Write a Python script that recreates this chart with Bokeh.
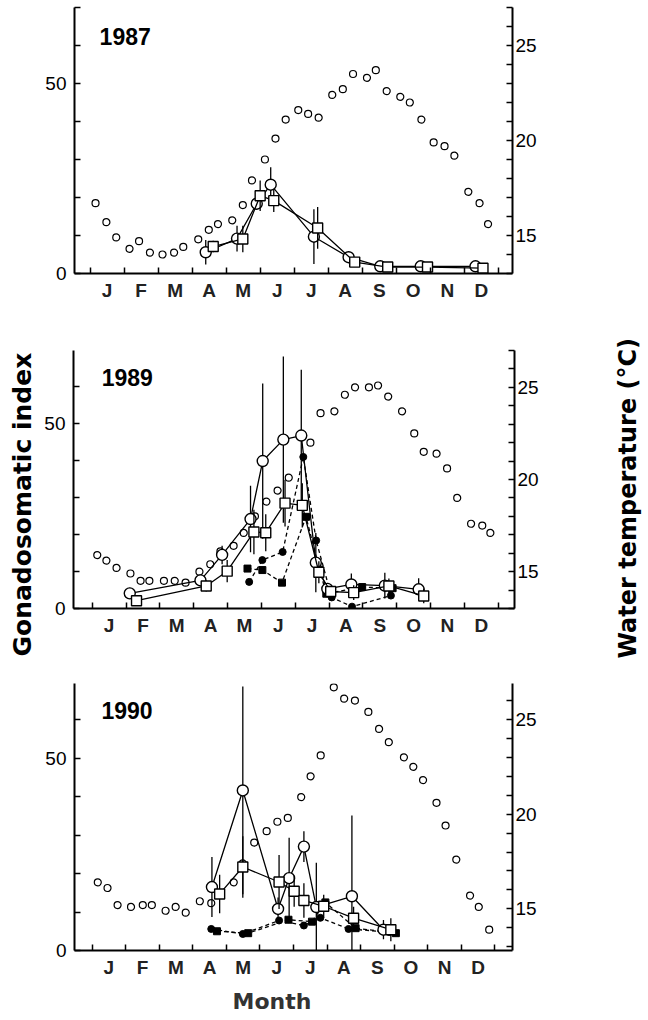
import math
from bokeh.plotting import figure
from bokeh.models import Range1d, LinearAxis, FixedTicker, Label, Title
from bokeh.layouts import column, row
from bokeh.embed import file_html
from bokeh.resources import INLINE

# ---------------- axis categories ----------------
month_labels = ["J", "F", "M", "A", "M", "J", "J", "A", "S", "O", "N", "D"]
month_centers = [0.5 + i for i in range(12)]
month_bounds = list(range(13))
gsi_ticks = [0, 10, 20, 30, 40, 50, 60, 70]
gsi_labels = {0: "0", 50: "50"}
temp_ticks = list(range(13, 28))
temp_labels = {15: "15", 20: "20", 25: "25"}

# ---------------- 1987 ----------------
tx_87 = [0.16, 0.48, 0.77, 1.16, 1.44, 1.76, 2.13, 2.47, 2.74, 3.18, 3.49, 3.76, 4.18, 4.49, 4.76, 5.14, 5.45, 5.75,
         6.12, 6.41, 6.72, 7.12, 7.43, 7.73, 8.14, 8.40, 8.72, 9.12, 9.40, 9.74, 10.10, 10.42, 10.71, 11.12, 11.45, 11.70]
t_87 = [16.7, 15.7, 14.9, 14.3, 14.7, 14.1, 14.0, 14.1, 14.4, 14.8, 15.3, 15.6, 15.8, 16.6, 17.9, 19.0, 20.1, 21.1,
        21.6, 21.4, 21.2, 22.4, 22.7, 23.5, 23.3, 23.7, 22.6, 22.3, 22.0, 21.1, 19.9, 19.7, 19.2, 17.3, 16.7, 15.6]
x_87_o = [3.40, 4.32, 4.90, 5.31, 6.58, 7.60, 8.53, 9.72, 11.33]
y_87_o = [5.6, 9.2, 18.4, 23.4, 9.7, 4.3, 1.9, 1.9, 1.9]
e_87_o = [3.2, 3.4, 1.5, 4.6, 7.2, 1.5, 1.0, 1.0, 0.8]
x_87_s = [3.62, 4.49, 5.00, 5.40, 6.69, 7.78, 8.75, 9.92, 11.55]
y_87_s = [7.1, 9.1, 20.5, 19.2, 12.0, 3.0, 1.7, 1.7, 1.4]
e_87_s = [1.5, 3.5, 4.0, 3.0, 5.5, 1.0, 0.8, 0.8, 0.5]

# ---------------- 1989 ----------------
tx_89 = [0.15, 0.42, 0.72, 1.13, 1.43, 1.69, 2.12, 2.44, 2.76, 3.17, 3.49, 3.79, 4.18, 4.48, 4.81, 5.15, 5.48, 5.81,
         6.45, 6.75, 7.16, 7.47, 7.77, 8.18, 8.45, 8.75, 9.16, 9.52, 9.80, 10.18, 10.49, 10.79, 11.20, 11.53, 11.77]
t_89 = [15.9, 15.6, 15.2, 14.9, 14.5, 14.5, 14.5, 14.5, 14.4, 15.0, 15.4, 16.1, 16.4, 17.1, 18.0, 18.8, 19.4, 20.1,
        22.0, 23.6, 23.7, 24.6, 25.0, 25.0, 25.1, 24.5, 23.7, 22.5, 21.5, 21.4, 20.6, 19.0, 17.6, 17.5, 17.1]
x_89_o = [1.11, 3.20, 3.84, 4.68, 5.04, 5.65, 6.18, 6.61, 6.95, 7.66, 8.65, 9.65]
y_89_o = [4.1, 7.6, 14.5, 24.2, 39.9, 45.7, 46.8, 12.4, 5.3, 6.5, 6.2, 5.2]
e_89_o = [1.5, 1.5, 2.5, 9.0, 21.0, 22.5, 17.8, 8.0, 1.5, 3.0, 3.5, 3.0]
x_89_s = [1.31, 3.37, 3.99, 4.78, 5.13, 5.70, 6.21, 6.70, 7.05, 7.73, 8.77, 9.80]
y_89_s = [2.1, 6.1, 10.1, 20.7, 20.5, 28.5, 27.9, 9.8, 4.6, 4.3, 6.1, 3.4]
e_89_s = [1.0, 1.5, 3.0, 6.0, 5.0, 6.3, 6.0, 3.0, 1.5, 2.0, 2.0, 2.0]
x_89_fc = [4.64, 5.03, 5.63, 6.24, 6.62, 7.08, 7.68, 8.83]
y_89_fc = [7.2, 13.1, 15.3, 41.0, 18.4, 3.0, 0.5, 3.5]
x_89_fs = [4.59, 5.03, 5.61, 6.32, 6.72, 6.92, 7.98, 8.88]
y_89_fs = [10.8, 10.4, 7.0, 24.8, 10.5, 4.0, 5.8, 5.5]

# ---------------- 1990 ----------------
tx_90 = [0.17, 0.46, 0.76, 1.16, 1.51, 1.78, 2.19, 2.49, 2.79, 3.21, 3.55, 4.22, 4.49, 4.83, 5.20, 5.52, 5.83,
         6.23, 6.51, 6.81, 7.20, 7.51, 7.83, 8.23, 8.55, 8.84, 9.29, 9.57, 9.86, 10.26, 10.53, 10.85, 11.26, 11.52, 11.83]
t_90 = [16.4, 16.1, 15.2, 15.1, 15.2, 15.2, 14.9, 15.1, 14.8, 15.4, 15.3, 16.4, 17.4, 18.5, 19.1, 19.6, 19.8,
        20.9, 22.0, 23.1, 26.7, 26.1, 26.0, 25.4, 24.5, 23.8, 23.0, 22.5, 21.8, 20.6, 19.4, 17.6, 15.7, 15.1, 13.9]
x_90_o = [3.57, 4.49, 5.54, 5.87, 6.31, 6.68, 7.74, 8.68]
y_90_o = [16.5, 41.6, 10.8, 18.8, 27.0, 11.3, 14.1, 5.4]
e_90_o = [7.8, 27.0, 3.0, 10.5, 4.0, 11.5, 21.0, 2.5]
x_90_s = [3.80, 4.49, 5.57, 6.02, 6.31, 6.90, 7.79, 8.90]
y_90_s = [14.7, 21.7, 17.8, 15.4, 13.0, 11.5, 8.4, 5.4]
e_90_s = [5.0, 8.0, 7.0, 4.0, 4.5, 3.0, 3.0, 3.0]
x_90_fc = [3.55, 4.49, 5.57, 6.31, 6.80, 7.64, 8.85]
y_90_fc = [5.6, 4.3, 7.8, 6.5, 8.5, 5.6, 4.8]
x_90_fs = [3.72, 4.65, 5.85, 6.55, 6.95, 7.85, 9.05]
y_90_fs = [5.0, 4.5, 8.0, 7.5, 12.5, 5.8, 4.5]

FONT = "Liberation Sans"
TITLE_FONT = "DejaVu Sans"


def make_panel(year, tx, ty, opn, sq, fc, fs, xr, yr, tr, width, height, top, fh, left, right):
    p = figure(width=width, height=height, x_range=Range1d(*xr), y_range=Range1d(*yr),
               output_backend="svg", toolbar_location=None,
               min_border_left=left, min_border_right=right, min_border_top=top,
               min_border_bottom=height - top - fh,
               outline_line_color=None, background_fill_color="white", border_fill_color="white")
    p.xgrid.visible = False
    p.ygrid.visible = False
    p.extra_y_ranges = {"temp": Range1d(*tr)}

    # left axis (GSI)
    ya = p.yaxis[0]
    ya.ticker = FixedTicker(ticks=gsi_ticks)
    ya.major_label_overrides = {t: gsi_labels.get(t, "") for t in gsi_ticks}
    ya.major_tick_in = 6
    ya.major_tick_out = 0
    ya.minor_tick_in = 0
    ya.minor_tick_out = 0
    ya.major_label_standoff = 8
    ya.axis_line_width = 2
    ya.major_tick_line_width = 1.5
    ya.major_label_text_font = FONT
    ya.major_label_text_font_size = "19px"
    ya.major_label_text_color = "black"

    # right axis (temperature)
    ra = LinearAxis(y_range_name="temp", ticker=FixedTicker(ticks=temp_ticks))
    ra.major_label_overrides = {t: temp_labels.get(t, "") for t in temp_ticks}
    ra.major_tick_in = 6
    ra.major_tick_out = 0
    ra.minor_tick_in = 0
    ra.minor_tick_out = 0
    ra.major_label_standoff = 3
    ra.axis_line_width = 2
    ra.major_tick_line_width = 1.5
    ra.major_label_text_font = FONT
    ra.major_label_text_font_size = "19px"
    ra.major_label_text_color = "black"
    p.add_layout(ra, "right")

    # bottom axis (months)
    xa = p.xaxis[0]
    xa.ticker = FixedTicker(ticks=month_centers, minor_ticks=month_bounds)
    xa.major_label_overrides = {c: l for c, l in zip(month_centers, month_labels)}
    xa.major_tick_in = 0
    xa.major_tick_out = 0
    xa.minor_tick_in = 6
    xa.minor_tick_out = 0
    xa.minor_tick_line_color = "black"
    xa.minor_tick_line_width = 1.5
    xa.axis_line_width = 2
    xa.major_label_standoff = 6
    xa.major_label_text_font = FONT
    xa.major_label_text_font_style = "bold"
    xa.major_label_text_font_size = "19px"
    xa.major_label_text_color = "#222222"

    # water temperature
    p.scatter(tx, ty, y_range_name="temp", marker="circle", size=7,
              fill_color="white", line_color="black", line_width=1.2)

    # dashed series (filled markers)
    if fc:
        for (xs, ys), mk in ((fc, "circle"), (fs, "square")):
            p.line(xs, ys, line_color="black", line_width=1.3, line_dash="4 3")
            p.scatter(xs, ys, marker=mk, size=7, fill_color="black", line_color="black")

    # solid series (open markers) with error bars
    for (xs, ys, es), mk, sz in ((opn, "circle", 11), (sq, "square", 10)):
        p.segment(xs, [max(0, y - e) for y, e in zip(ys, es)], xs, [y + e for y, e in zip(ys, es)],
                  line_color="black", line_width=1.3)
        p.line(xs, ys, line_color="black", line_width=1.3)
        p.scatter(xs, ys, marker=mk, size=sz, fill_color="white", line_color="black", line_width=1.4)

    p.add_layout(Label(x=0.28, y=62.4, text=year, text_font=FONT, text_font_style="bold",
                       text_font_size="23px", text_color="black", text_baseline="middle"))
    return p


p1 = make_panel("1987", tx_87, t_87, (x_87_o, y_87_o, e_87_o), (x_87_s, y_87_s, e_87_s), None, None,
                (-0.458, 12.418), (0, 70.1), (13, 27), 648, 310, 7, 266, 71, 136)
p2 = make_panel("1989", tx_89, t_89, (x_89_o, y_89_o, e_89_o), (x_89_s, y_89_s, e_89_s),
                (x_89_fc, y_89_fc), (x_89_fs, y_89_fs),
                (-0.553, 12.483), (0, 69.8), (13, 27), 600, 370, 40, 258, 73, 86)
p3 = make_panel("1990", tx_90, t_90, (x_90_o, y_90_o, e_90_o), (x_90_s, y_90_s, e_90_s),
                (x_90_fc, y_90_fc), (x_90_fs, y_90_fs),
                (-0.524, 12.524), (0, 69.4), (12.8, 26.9), 648, 340, 3, 267, 74, 133)

# shared left title
p2.add_layout(Title(text="Gonadosomatic index", align="left", offset=-48,
                    text_font=TITLE_FONT, text_font_style="bold", text_font_size="25px",
                    text_color="black", standoff=10), "left")

# shared right title (reads bottom-to-top), in a narrow strip beside the middle panel
pr = figure(width=48, height=370, output_backend="svg", toolbar_location=None,
            x_axis_type=None, y_axis_type=None, outline_line_color=None,
            min_border_left=44, min_border_right=0, min_border_top=40, min_border_bottom=72,
            background_fill_color="white", border_fill_color="white")
pr.xgrid.visible = False
pr.ygrid.visible = False
pr.add_layout(Title(text="Water temperature (°C)", align="left", offset=-50, vertical_align="middle",
                    text_font=TITLE_FONT, text_font_style="bold", text_font_size="24px",
                    text_color="black", standoff=3), "left")

p3.add_layout(Title(text="Month", align="left", offset=158,
                    text_font=TITLE_FONT, text_font_style="bold", text_font_size="22px",
                    text_color="#333333", standoff=13), "below")

layout = column(p1, row(p2, pr, spacing=0), p3, spacing=0)
open("out.html", "w").write(file_html(layout, INLINE))
